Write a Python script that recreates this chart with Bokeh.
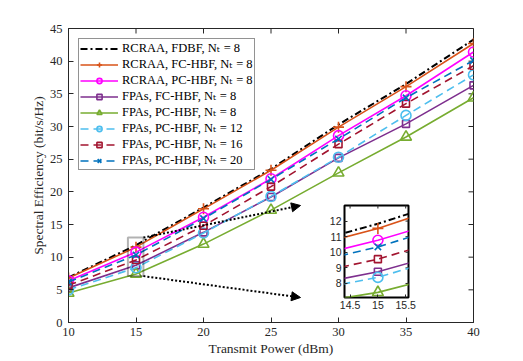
import math
from bokeh.plotting import figure
from bokeh.models import (Legend, LegendItem, FixedTicker, Range1d,
                          Arrow, NormalHead, BoxAnnotation)
from bokeh.layouts import column
from bokeh.embed import file_html
from bokeh.resources import INLINE

# ---------------- data ----------------
power = [10, 15, 20, 25, 30, 35, 40]
rcraa_fdbf_8 = [6.9, 11.83, 17.6, 23.5, 30.3, 36.5, 43.3]
rcraa_fchbf_8 = [6.8, 11.53, 17.4, 23.3, 29.9, 36.1, 42.7]
rcraa_pchbf_8 = [6.4, 10.77, 16.1, 22.0, 28.6, 34.7, 41.4]
fpa_fchbf_8 = [5.3, 8.75, 13.8, 19.2, 25.2, 30.4, 36.3]
fpa_pchbf_8 = [4.5, 7.43, 12.0, 17.2, 22.9, 28.4, 34.4]
fpa_pchbf_12 = [5.0, 8.39, 13.7, 19.3, 25.3, 31.7, 37.9]
fpa_pchbf_16 = [5.7, 9.56, 14.8, 20.8, 27.3, 33.5, 39.3]
fpa_pchbf_20 = [6.2, 10.34, 15.9, 21.9, 28.1, 34.4, 40.1]

labels = ["RCRAA, FDBF, N\u209c = 8", "RCRAA, FC-HBF, N\u209c = 8", "RCRAA, PC-HBF, N\u209c = 8",
          "FPAs, FC-HBF, N\u209c = 8", "FPAs, PC-HBF, N\u209c = 8", "FPAs, PC-HBF, N\u209c = 12",
          "FPAs, PC-HBF, N\u209c = 16", "FPAs, PC-HBF, N\u209c = 20"]

x_ticks = [10, 15, 20, 25, 30, 35, 40]
y_ticks = [0, 5, 10, 15, 20, 25, 30, 35, 40, 45]
xlim = (10, 40)
ylim = (0, 45)
inset_x_ticks = [14.5, 15, 15.5]
inset_y_ticks = [8, 9, 10, 11, 12]
inset_xlim = (14.4, 15.55)
inset_ylim = (7.1, 13.0)

series = [
    (rcraa_fdbf_8, "#000000", "7 3 2 3", None, 0),
    (rcraa_fchbf_8, "#D95319", "solid", "cross", 11),
    (rcraa_pchbf_8, "#FF00FF", "solid", "circle", 10),
    (fpa_fchbf_8, "#7E2F8E", "solid", "square", 7),
    (fpa_pchbf_8, "#77AC30", "solid", "triangle", 11),
    (fpa_pchbf_12, "#4DBEEE", "8 5", "circle", 10),
    (fpa_pchbf_16, "#A2142F", "8 5", "square", 7),
    (fpa_pchbf_20, "#0072BD", "8 5", "x", 9),
]

AX = "#262626"
SERIF = "Liberation Serif"
LEG_FONT = "Liberation Serif, DejaVu Sans"
SANS = "Liberation Sans"

# ---------------- layout constants ----------------
W, H = 523, 361
BL, BR, BT, BB = 68, 50, 28, 39
FW, FH = W - BL - BR, H - BT - BB
IN_L, IN_R, IN_T, IN_B = 300, 452, 205, 297   # inset frame in page pixels
QBL, QBR, QBT, QBB = 24, 6, 3, 18

p = figure(width=W, height=H, x_range=Range1d(*xlim), y_range=Range1d(*ylim),
           output_backend="svg", toolbar_location=None,
           min_border_left=BL, min_border_right=BR, min_border_top=BT, min_border_bottom=BB)
p.grid.visible = False
p.outline_line_color = AX
p.outline_line_width = 1
p.background_fill_color = "white"
p.border_fill_color = "white"

p.xaxis.ticker = FixedTicker(ticks=x_ticks)
p.yaxis.ticker = FixedTicker(ticks=y_ticks)
for ax in [p.xaxis[0], p.yaxis[0]]:
    ax.major_tick_in = 5
    ax.major_tick_out = 0
    ax.minor_tick_line_color = None
    ax.axis_line_color = AX
    ax.major_tick_line_color = AX
    ax.major_label_text_font = SERIF
    ax.major_label_text_font_size = "12.5px"
    ax.major_label_text_color = AX
    ax.axis_label_text_font = SERIF
    ax.axis_label_text_font_size = "13.5px"
    ax.axis_label_text_font_style = "normal"
    ax.axis_label_text_color = AX
p.xaxis.major_label_standoff = 5
p.xaxis.axis_label_standoff = 2
p.yaxis.major_label_standoff = 6
p.yaxis.axis_label_standoff = 1
p.xaxis.axis_label = "Transmit Power (dBm)"
p.yaxis.axis_label = "Spectral Efficiency (bit/s/Hz)"

# box ticks on top and right (inward)
p.scatter(x_ticks, [ylim[1]] * len(x_ticks), marker="dash", angle=math.pi / 2, size=10,
          line_color=AX, line_width=1)
p.scatter([xlim[1]] * len(y_ticks), y_ticks, marker="dash", size=10, line_color=AX, line_width=1)

items = []
for (ys, color, dash, marker, msize), lab in zip(series, labels):
    rl = p.line(power, ys, line_color=color, line_width=1.6 if marker else 2, line_dash=dash)
    rs = [rl]
    if marker:
        rm = p.scatter(power, ys, marker=marker, size=msize, line_color=color,
                       fill_color=None, line_width=1.6)
        rs.append(rm)
    items.append(LegendItem(label=lab, renderers=rs))

# zoom box and arrows
p.add_layout(BoxAnnotation(left=inset_xlim[0], right=inset_xlim[1], bottom=inset_ylim[0],
                           top=inset_ylim[1], fill_color=None, line_color="black", line_width=2))

def px_to_x(px):
    return xlim[0] + (px - BL) / FW * (xlim[1] - xlim[0])

def py_to_y(py):
    return ylim[0] + (BT + FH - py) / FH * (ylim[1] - ylim[0])

for ys0, py in [(inset_ylim[1], IN_T), (inset_ylim[0], IN_B)]:
    p.add_layout(Arrow(end=NormalHead(size=9, fill_color="black", line_color="black"),
                       x_start=inset_xlim[1], y_start=ys0, x_end=px_to_x(IN_L), y_end=py_to_y(py),
                       line_color="black", line_width=2, line_dash="2 2"))

legend = Legend(items=items, location="top_left", margin=10, padding=1, spacing=0,
                glyph_width=38, glyph_height=13, label_height=13, label_standoff=4,
                label_text_font=LEG_FONT, label_text_font_size="12.5px", label_text_color="black",
                border_line_color=AX, border_line_width=1, background_fill_alpha=1)
p.add_layout(legend)

# ---------------- inset ----------------
QW = QBL + (IN_R - IN_L) + QBR
QH = QBT + (IN_B - IN_T) + QBB
q = figure(width=QW, height=QH, x_range=Range1d(*inset_xlim), y_range=Range1d(*inset_ylim),
           output_backend="svg", toolbar_location=None,
           min_border_left=QBL, min_border_right=QBR, min_border_top=QBT, min_border_bottom=QBB)
q.grid.visible = False
q.border_fill_color = None
q.background_fill_color = "white"
q.outline_line_color = "black"
q.outline_line_width = 2
q.xaxis.ticker = FixedTicker(ticks=inset_x_ticks)
q.yaxis.ticker = FixedTicker(ticks=inset_y_ticks)
for ax in [q.xaxis[0], q.yaxis[0]]:
    ax.major_tick_in = 3
    ax.major_tick_out = 0
    ax.minor_tick_line_color = None
    ax.axis_line_color = None
    ax.major_tick_line_color = AX
    ax.major_label_text_font = SANS
    ax.major_label_text_font_size = "10.5px"
    ax.major_label_text_color = AX
    ax.major_label_standoff = 3

q.scatter(inset_x_ticks, [inset_ylim[1]] * len(inset_x_ticks), marker="dash", angle=math.pi / 2,
          size=6, line_color=AX, line_width=1)
q.scatter([inset_xlim[1]] * len(inset_y_ticks), inset_y_ticks, marker="dash", size=6,
          line_color=AX, line_width=1)

for ys, color, dash, marker, msize in series:
    q.line(power, ys, line_color=color, line_width=1.6 if marker else 2, line_dash=dash)
    if marker:
        q.scatter(power, ys, marker=marker, size=msize, line_color=color,
                  fill_color=None, line_width=1.6)

q.margin = (-(H - (IN_T - QBT)), 0, 0, IN_L - QBL)

page = column(p, q, spacing=0)
open("out.html", "w").write(file_html(page, INLINE))
